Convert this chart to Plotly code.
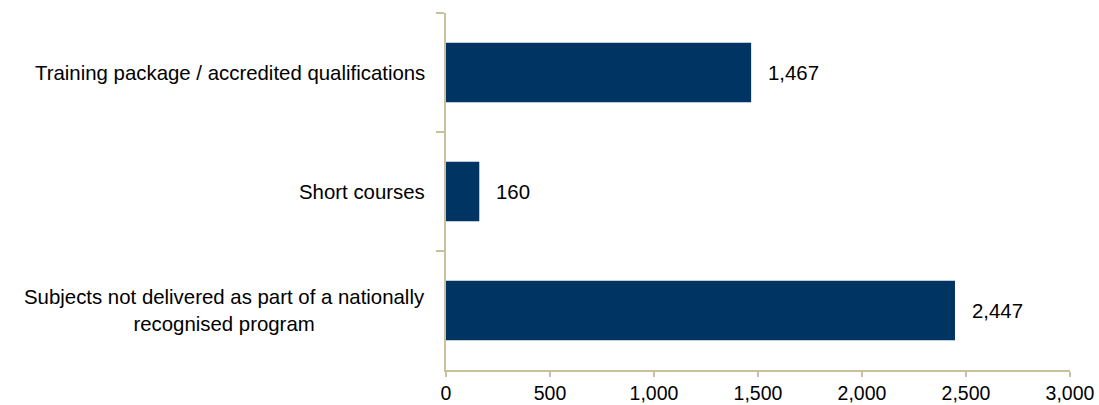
import plotly.graph_objects as go

categories = [
    "Training package / accredited qualifications",
    "Short courses",
    "Subjects not delivered as part of a nationally<br>recognised program",
]
values = [1467, 160, 2447]
x_ticks = [0, 500, 1000, 1500, 2000, 2500, 3000]
x_tick_labels = ["0", "500", "1,000", "1,500", "2,000", "2,500", "3,000"]

axis_color = "#C8C19C"
font = dict(family="Liberation Sans, Arial, sans-serif", size=20.4, color="#000000")
tick_font = dict(family="Liberation Sans, Arial, sans-serif", size=19.5, color="#000000")

fig = go.Figure()
fig.add_trace(go.Bar(
    y=categories,
    x=values,
    orientation="h",
    marker=dict(color="#003462", line=dict(width=0)),
    hoverinfo="skip",
))

annotations = []
for c, v in zip(categories, values):
    annotations.append(dict(
        x=v, y=c, xref="x", yref="y", text=f"{v:,}", showarrow=False,
        xanchor="left", yanchor="middle", xshift=15, font=font,
    ))
    annotations.append(dict(
        x=0, y=c, xref="paper", yref="y", text=c, showarrow=False,
        xanchor="right", yanchor="middle", xshift=-19, align="center", font=font,
    ))

fig.update_layout(
    template="none",
    width=1099, height=405,
    margin=dict(l=446, r=29, t=13, b=35, autoexpand=False),
    paper_bgcolor="white", plot_bgcolor="white",
    bargap=0.5, showlegend=False,
    font=font,
    annotations=annotations,
    xaxis=dict(
        range=[0, 3000], tickvals=x_ticks, ticktext=x_tick_labels,
        showgrid=False, zeroline=False, showline=True, linecolor=axis_color, linewidth=1.5,
        ticks="outside", ticklen=5, tickcolor=axis_color, tickwidth=1.5,
        tickfont=tick_font, fixedrange=True, automargin=False,
    ),
    yaxis=dict(
        categoryorder="array", categoryarray=categories, autorange="reversed",
        showgrid=False, zeroline=False, showline=True, linecolor=axis_color, linewidth=1.5,
        ticks="outside", ticklen=8, tickcolor=axis_color, tickwidth=1.5,
        tickson="boundaries", showticklabels=False, fixedrange=True, automargin=False,
    ),
)

fig.write_html(
    "out.html",
    config={"displayModeBar": False},
    post_script="document.body.style.margin='0';document.body.style.overflow='hidden';",
)
